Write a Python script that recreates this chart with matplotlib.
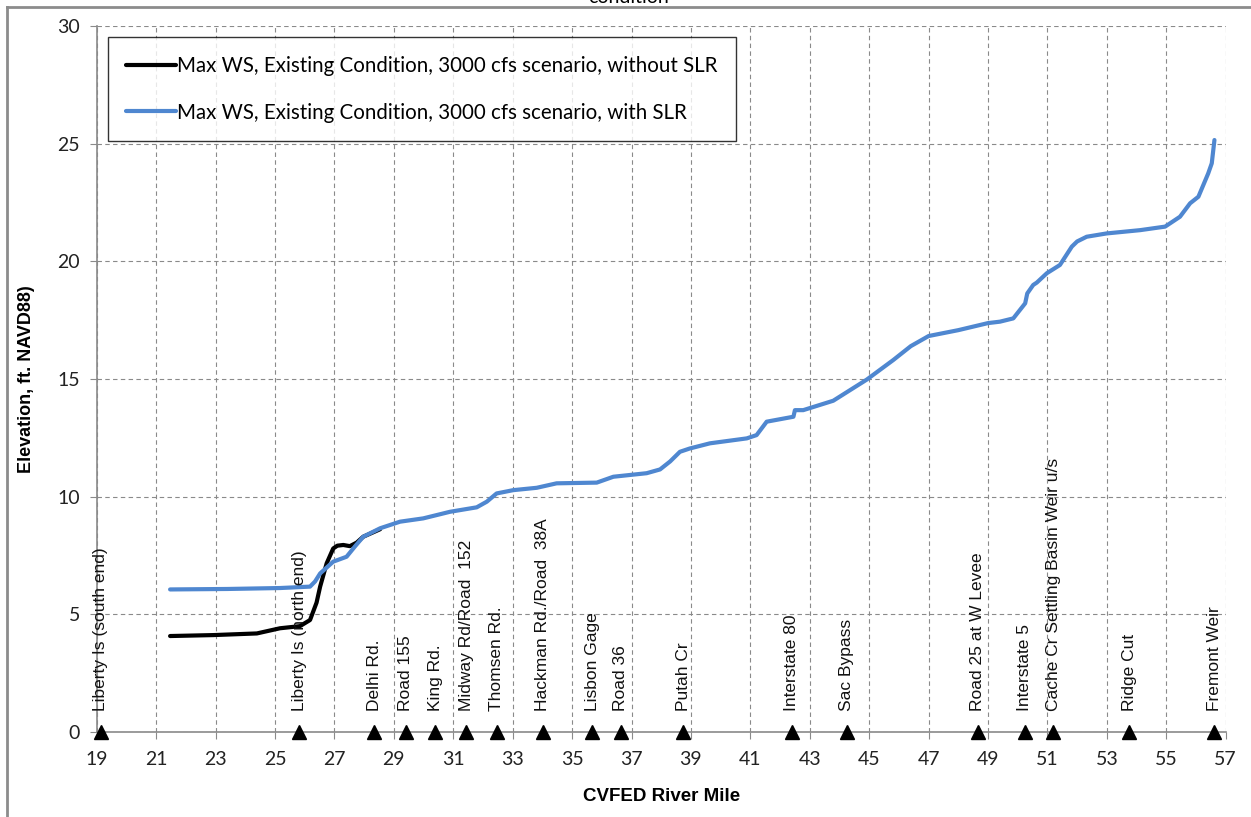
import numpy as np
import matplotlib
matplotlib.use("Agg")
import matplotlib.pyplot as plt
from matplotlib.lines import Line2D

# water surface profiles (river mile, elevation ft NAVD88)
mile_nslr = [21.47, 22.92, 24.39, 25.17, 25.84, 26.18, 26.40, 26.52, 26.74,
             26.96, 27.10, 27.30, 27.52, 27.75, 27.97, 28.54]
ws_nslr = [4.08, 4.12, 4.19, 4.41, 4.50, 4.76, 5.50, 6.18, 7.17,
           7.80, 7.92, 7.95, 7.90, 8.05, 8.30, 8.62]

mile_slr = [21.47, 23.40, 25.17, 26.18, 26.35, 26.52, 26.96, 27.41, 27.70,
            27.97, 28.54, 29.21, 29.99, 30.89, 31.79, 32.13, 32.46, 33.02,
            33.81, 34.48, 35.83, 36.39, 37.51, 37.96, 38.30, 38.63, 38.96,
            39.64, 40.88, 41.21, 41.55, 42.45, 42.50, 42.78, 43.79, 44.92,
            45.81, 46.40, 47.00, 48.00, 49.00, 49.40, 49.85, 50.25, 50.32,
            50.52, 50.64, 50.98, 51.42, 51.82, 52.00, 52.32, 52.99, 54.12,
            54.96, 55.46, 55.80, 56.08, 56.41, 56.53, 56.62]
ws_slr = [6.06, 6.08, 6.12, 6.18, 6.40, 6.74, 7.24, 7.45, 7.90,
          8.30, 8.66, 8.94, 9.08, 9.36, 9.55, 9.79, 10.14, 10.28,
          10.38, 10.57, 10.60, 10.85, 11.00, 11.16, 11.50, 11.91, 12.05,
          12.27, 12.48, 12.62, 13.19, 13.40, 13.68, 13.68, 14.08, 14.98,
          15.81, 16.40, 16.83, 17.08, 17.38, 17.44, 17.58, 18.22, 18.64,
          19.00, 19.10, 19.50, 19.85, 20.63, 20.85, 21.05, 21.19, 21.33,
          21.48, 21.90, 22.47, 22.75, 23.74, 24.17, 25.16]

# landmarks along the river
lm_names = ["Liberty Is (south end)", "Liberty Is (north end)", "Delhi Rd.",
            "Road 155", "King Rd.", "Midway Rd/Road  152", "Thomsen Rd.",
            "Hackman Rd./Road  38A", "Lisbon Gage", "Road 36", "Putah Cr",
            "Interstate 80", "Sac Bypass", "Road 25 at W Levee",
            "Interstate 5", "Cache Cr Settling Basin Weir u/s", "Ridge Cut",
            "Fremont Weir"]
lm_mile = [19.13, 25.81, 28.34, 29.40, 30.40, 31.43, 32.46, 34.01, 35.68,
           36.64, 38.74, 42.39, 44.24, 48.66, 50.24, 51.20, 53.76, 56.62]

x_ticks = list(range(19, 58, 2))
y_ticks = list(range(0, 31, 5))

lbl_nslr = "Max WS, Existing Condition, 3000 cfs scenario, without SLR"
lbl_slr = "Max WS, Existing Condition, 3000 cfs scenario, with SLR"

BLUE = "#4F87D0"
GRID = "#8a8a8a"

fig = plt.figure(figsize=(12.51, 8.17), dpi=100)
ax = fig.add_axes([0.0773, 0.104, 0.9025, 0.864])

ax.plot(mile_nslr, ws_nslr, color="black", lw=3.0, label=lbl_nslr,
        solid_capstyle="round", solid_joinstyle="round")
ax.plot(mile_slr, ws_slr, color=BLUE, lw=3.0, label=lbl_slr,
        solid_capstyle="round", solid_joinstyle="round")

ax.plot(lm_mile, [0] * len(lm_mile), linestyle="none", marker="^",
        color="black", markersize=10, clip_on=False, zorder=5)
for name, m in zip(lm_names, lm_mile):
    ax.text(m, 0.9, name, rotation=90, ha="center", va="bottom",
            fontsize=12.5, family="Liberation Sans", color="#111111")

ax.set_xlim(19, 57)
ax.set_ylim(0, 30)
ax.set_xticks(x_ticks)
ax.set_yticks(y_ticks)
ax.tick_params(labelsize=14, length=5, color=GRID)
ax.tick_params(axis="x", pad=9)
ax.tick_params(axis="y", pad=7)
for t in ax.get_xticklabels() + ax.get_yticklabels():
    t.set_family("Lato")
    t.set_color("#222222")

ax.grid(True, color=GRID, linestyle=(0, (4, 3)), linewidth=0.8)
for s in ["top", "right"]:
    ax.spines[s].set_visible(False)
for s in ["left", "bottom"]:
    ax.spines[s].set_color(GRID)
    ax.spines[s].set_linewidth(1.2)

ax.set_xlabel("CVFED River Mile", fontsize=13.5, fontweight="bold",
              family="Liberation Sans", labelpad=14)
ax.set_ylabel("Elevation, ft. NAVD88)", fontsize=13, fontweight="bold",
              family="Liberation Sans", labelpad=16)

leg = ax.legend(loc="upper left", bbox_to_anchor=(0.010, 0.984),
                prop={"family": "Lato", "size": 14.8}, frameon=True,
                fancybox=False, edgecolor="black", handlelength=2.4,
                handletextpad=0.05, labelspacing=1.3, borderpad=0.9,
                borderaxespad=0)
leg.get_frame().set_linewidth(1.0)

# chart area border and clipped title
fig.add_artist(Line2D([0.0056, 0.0056], [0, 0.9914], color="#8c8c8c",
                      lw=2, transform=fig.transFigure))
fig.add_artist(Line2D([0.0056, 1], [0.9914, 0.9914], color="#8c8c8c",
                      lw=2, transform=fig.transFigure))
fig.text(0.502, 0.996, "condition", ha="center", va="baseline",
         fontsize=14, family="Lato")

fig.savefig("out.png", dpi=100)
